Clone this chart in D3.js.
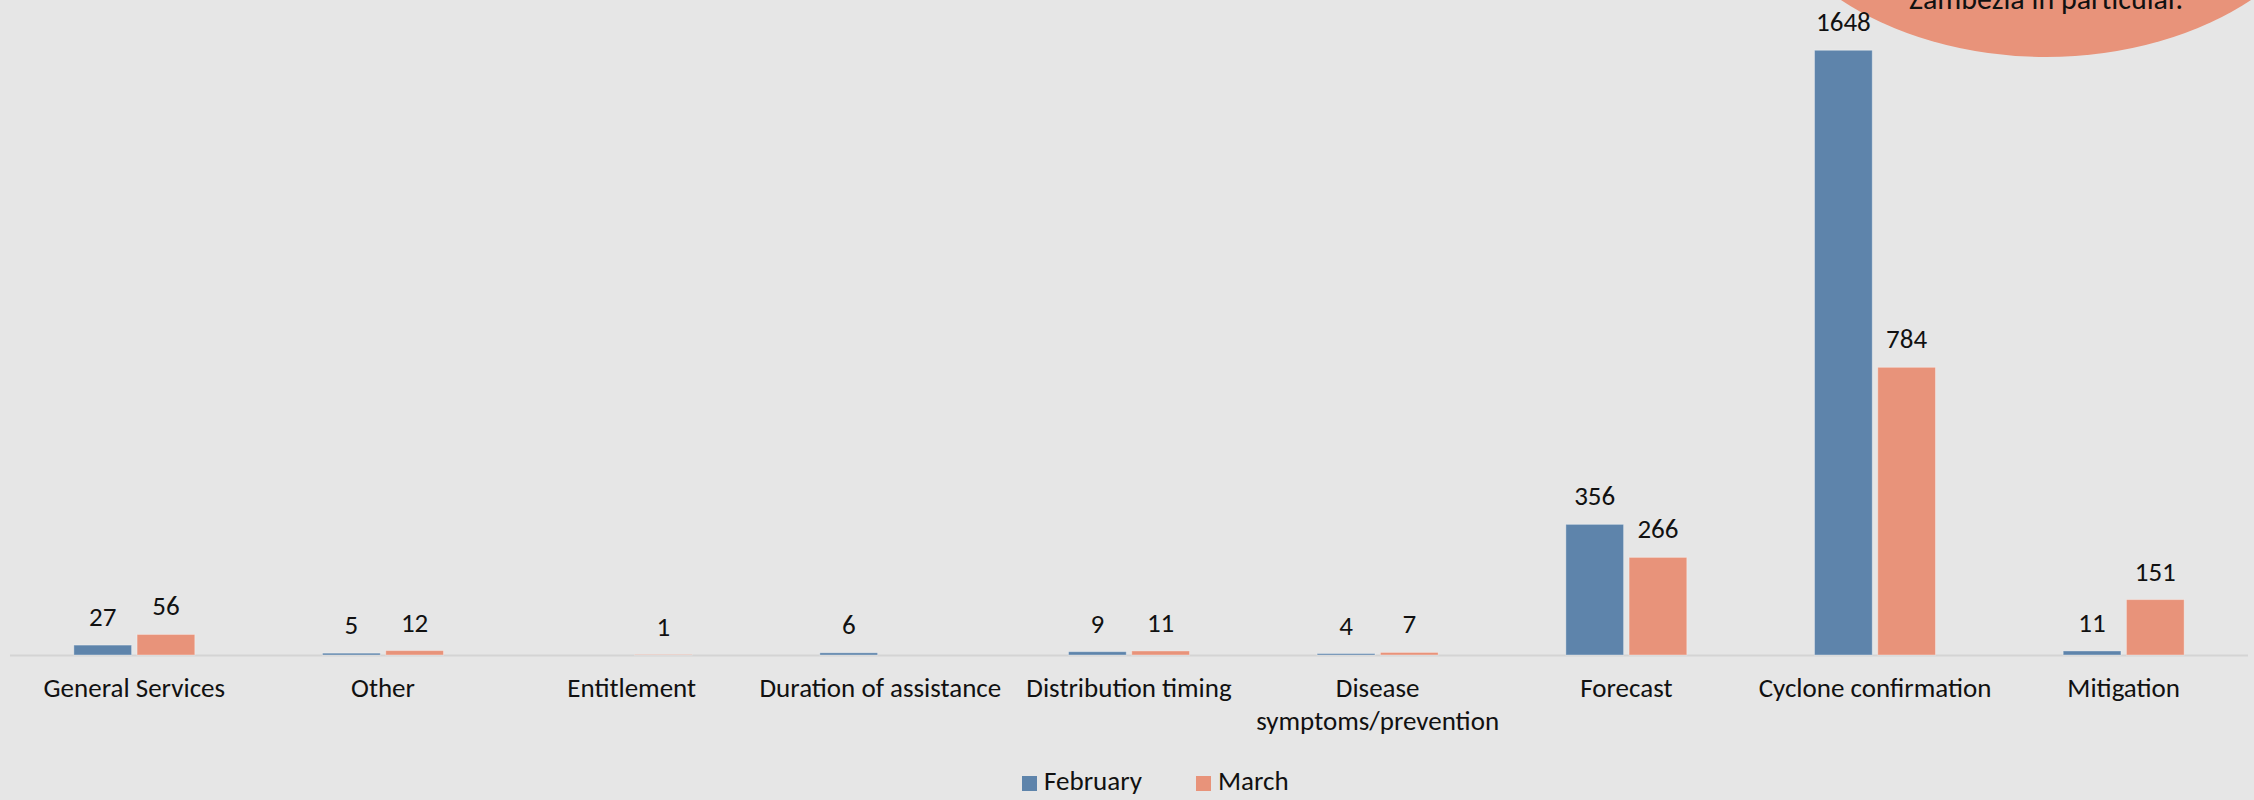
<!DOCTYPE html>
<html>
<head>
<meta charset="utf-8">
<script src="https://cdn.jsdelivr.net/npm/d3@7/dist/d3.min.js"></script>
<style>
  html, body { margin: 0; padding: 0; background: #e6e6e6; }
  svg { display: block; }
  text { font-family: Carlito, Calibri, Lato, "Open Sans", sans-serif; }
</style>
</head>
<body>
<svg id="chart" width="2254" height="800"></svg>
<script>
// Enquiry topics and monthly counts
const categories = [
  "General Services", "Other", "Entitlement", "Duration of assistance",
  "Distribution timing", "Disease symptoms/prevention", "Forecast",
  "Cyclone confirmation", "Mitigation"
];
const seriesNames = ["February", "March"];
const february = [27, 5, null, 6, 9, 4, 356, 1648, 11];
const march    = [56, 12, 1, null, 11, 7, 266, 784, 151];
const seriesColors = ["#5e84ab", "#e8937a"];
const calloutText = "Zambezia in particular.";

const W = 2254, H = 800;
const FONT = 27;
const svg = d3.select("#chart");

svg.append("rect").attr("width", W).attr("height", H).attr("fill", "#e6e6e6");

const baseY = 655;
const x0 = d3.scaleBand().domain(categories).range([10, 2248]).paddingInner(0).paddingOuter(0);
const x1 = d3.scaleBand().domain(seriesNames).range([0, x0.bandwidth()])
  .paddingInner(0.087).paddingOuter(1.01);
const y = d3.scaleLinear().domain([0, 1785]).range([baseY, 0]);

const rows = categories.map((c, i) => ({
  cat: c,
  values: [
    { s: seriesNames[0], v: february[i] },
    { s: seriesNames[1], v: march[i] }
  ]
}));
const color = d3.scaleOrdinal().domain(seriesNames).range(seriesColors);

// Callout bubble in the top-right corner
const bubble = svg.append("g");
bubble.append("ellipse")
  .attr("cx", 2046).attr("cy", -149).attr("rx", 297).attr("ry", 206)
  .attr("fill", "#e8937a");
bubble.append("text")
  .attr("x", 2046).attr("y", 9)
  .attr("text-anchor", "middle")
  .attr("font-size", 30)
  .attr("fill", "#111")
  .text(calloutText);

// Category axis line
svg.append("line")
  .attr("x1", x0.range()[0]).attr("x2", x0.range()[1])
  .attr("y1", baseY + 0.5).attr("y2", baseY + 0.5)
  .attr("stroke", "#d4d4d4").attr("stroke-width", 2);

// Grouped bars
const groups = svg.append("g").selectAll("g")
  .data(rows).join("g")
  .attr("transform", d => `translate(${x0(d.cat)},0)`);

groups.selectAll("rect")
  .data(d => d.values.filter(e => e.v !== null))
  .join("rect")
  .attr("x", e => x1(e.s))
  .attr("width", x1.bandwidth())
  .attr("y", e => y(e.v))
  .attr("height", e => baseY - y(e.v))
  .attr("fill", e => color(e.s))
  .attr("stroke", "rgba(255,255,255,0.35)")
  .attr("stroke-width", 1);

// Value labels above bars
groups.selectAll("text.val")
  .data(d => d.values.filter(e => e.v !== null))
  .join("text")
  .attr("class", "val")
  .attr("x", e => x1(e.s) + x1.bandwidth() / 2)
  .attr("y", e => y(e.v) - 19)
  .attr("text-anchor", "middle")
  .attr("font-size", FONT)
  .attr("fill", "#111")
  .text(e => e.v);

// Category labels (wrapped where they overflow the band)
const xAxis = d3.axisBottom(x0).tickSize(0).tickPadding(0);
const axisG = svg.append("g").attr("transform", `translate(0,${baseY})`).call(xAxis);
axisG.select(".domain").remove();
axisG.selectAll(".tick text")
  .attr("font-size", FONT)
  .attr("fill", "#111")
  .attr("font-family", null)
  .attr("dy", null)
  .attr("y", 42)
  .each(function(d) {
    const t = d3.select(this);
    if (d === "Disease symptoms/prevention") {
      t.text(null);
      t.append("tspan").attr("x", 0).attr("y", 42).text("Disease");
      t.append("tspan").attr("x", 0).attr("y", 75).text("symptoms/prevention");
    }
  });

// Legend
const legend = svg.append("g");
const legendItems = [
  { s: seriesNames[0], x: 1022 },
  { s: seriesNames[1], x: 1196 }
];
legendItems.forEach(it => {
  legend.append("rect")
    .attr("x", it.x).attr("y", 776).attr("width", 15).attr("height", 15)
    .attr("fill", color(it.s));
  legend.append("text")
    .attr("x", it.x + 22).attr("y", 790)
    .attr("font-size", FONT).attr("fill", "#111")
    .text(it.s);
});
</script>
</body>
</html>
